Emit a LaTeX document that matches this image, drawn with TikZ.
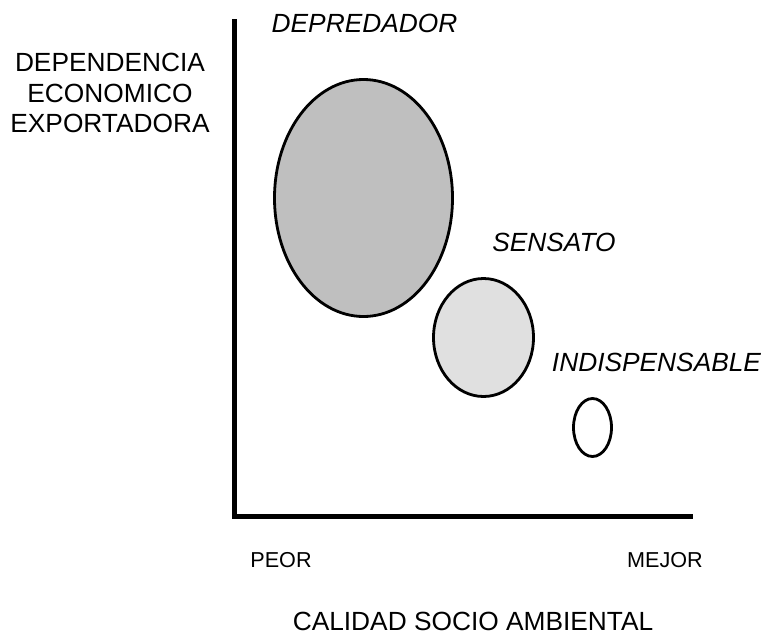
\documentclass[tikz,border=0pt]{standalone}
\usepackage{fontspec}
\setmainfont{Liberation Sans}
\usetikzlibrary{shapes.geometric}
\tikzset{
  axis/.style={line width=4.5pt},
  blob/.style={draw,ellipse,line width=2.8pt,inner sep=0pt},
  bigtext/.style={font=\fontsize{26.3}{30.5}\selectfont,inner sep=0pt},
  smalltext/.style={font=\fontsize{21.6}{26}\selectfont,inner sep=0pt},
  kindtext/.style={font=\fontsize{26.3}{30.5}\selectfont\itshape,inner sep=0pt},
}
\begin{document}
\begin{tikzpicture}[x=1pt,y=-1pt]
        \useasboundingbox (0,0) rectangle (763,635);
        %% Axes
        \coordinate (top) at (234.5,19);
        \coordinate (origin) at (234.5,516.5);
        \coordinate (right) at (693,516.5);
        \draw[axis] (top) -- (origin) -- (right);
        %% Axis labels
        \node[bigtext,align=center,anchor=center] (dependencia) at (110,93) {DEPENDENCIA\\ECONOMICO\\EXPORTADORA};
        \node[smalltext,anchor=center] (peor) at (281,560) {PEOR};
        \node[smalltext,anchor=center] (mejor) at (665,560) {MEJOR};
        \node[bigtext,anchor=center] (calidad) at (473,621) {CALIDAD SOCIO AMBIENTAL};
        %% Ellipses
        \node[blob,fill=black!25,minimum width=178pt,minimum height=237pt] (depredador) at (363.5,198) {};
        \node[blob,fill=black!12,minimum width=100pt,minimum height=118pt] (sensato) at (483.5,337.5) {};
        \node[blob,fill=white,minimum width=38pt,minimum height=58pt] (indispensable) at (592.5,427.5) {};
        %% Names
        \node[kindtext,anchor=center] (depredadorlabel) at (364.5,23.5) {DEPREDADOR};
        \node[kindtext,anchor=center] (sensatolabel) at (554,242.5) {SENSATO};
        \node[kindtext,anchor=center] (indispensablelabel) at (656.5,362) {INDISPENSABLE};
    \end{tikzpicture}
\end{document}
